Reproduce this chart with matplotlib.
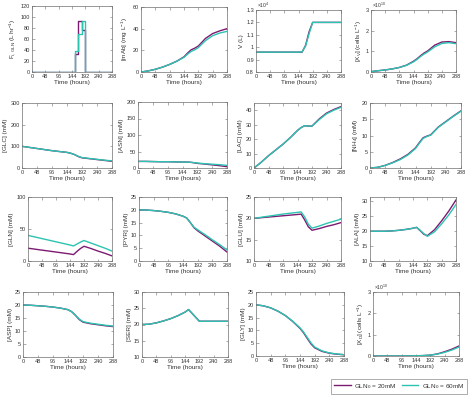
import numpy as np
import matplotlib
matplotlib.use("Agg")
import matplotlib.pyplot as plt
from matplotlib.ticker import FuncFormatter
from matplotlib.lines import Line2D

plt.rcParams['font.family'] = ['Liberation Sans', 'DejaVu Sans']
plt.rcParams['mathtext.default'] = 'regular'

# ---------------- data ----------------
t = [0, 24, 48, 72, 96, 120, 144, 156, 168, 180, 192, 216, 240, 264, 288]
series_names = ["GLN$_0$ = 20mM", "GLN$_0$ = 60mM"]

F_t = [0, 156, 165, 179, 191, 288]
F_20 = [0, 32, 92, 76, 0, 0]
F_60 = [0, 38, 70, 92, 0, 0]

mAb_20 = [0, 1, 2.5, 4.5, 7, 10, 14, 17.5, 20.5, 22, 24, 31, 35.5, 38, 40]
mAb_60 = [0, 1, 2.5, 4.5, 7, 10, 13.5, 16.5, 19, 20.5, 22.5, 29, 33.5, 36, 37.5]

V_20 = [9600, 9600, 9600, 9600, 9600, 9600, 9600, 9600, 10150, 11250, 12000, 12000, 12000, 12000, 12000]
V_60 = [9600, 9600, 9600, 9600, 9600, 9600, 9600, 9620, 10100, 11100, 12000, 12000, 12000, 12000, 12000]

XV_20 = [0.02, 0.06, 0.1, 0.15, 0.22, 0.33, 0.52, 0.64, 0.79, 0.92, 1.02, 1.3, 1.45, 1.47, 1.42]
XV_60 = [0.02, 0.06, 0.1, 0.15, 0.22, 0.32, 0.49, 0.61, 0.75, 0.87, 0.97, 1.22, 1.38, 1.42, 1.37]

GLC_20 = [100, 95, 90, 85, 80, 76, 72, 68, 62, 53, 47, 43, 39, 35, 31]
GLC_60 = [100, 95, 90, 85, 80, 76, 72, 68, 62, 54, 48, 44, 40, 36, 33]

ASN_20 = [20, 20, 19.5, 19, 19, 18.5, 18, 18, 17.5, 16, 14, 12, 9.5, 7, 4]
ASN_60 = [20, 20, 19.5, 19, 19, 18.5, 18, 18, 17.5, 16.5, 15, 13, 11.5, 10, 8]

LAC_20 = [0, 4, 8.5, 12.5, 16.5, 21, 26, 28, 29.3, 29, 29, 34, 38, 40.5, 42.5]
LAC_60 = [0, 4, 8.5, 12.5, 16.5, 21, 26, 28, 29.3, 29, 29, 33.5, 37.5, 40, 42]

NH4_20 = [0, 0.2, 0.8, 1.7, 2.8, 4.2, 6.2, 7.8, 9.3, 9.8, 10.2, 12.6, 14.3, 16, 17.6]
NH4_60 = [0, 0.2, 0.8, 1.6, 2.6, 4.0, 6.0, 7.6, 9.1, 9.7, 10.1, 12.5, 14.2, 15.9, 17.5]

GLN_20 = [20, 18.5, 17, 15.5, 14, 12.5, 11, 10, 15, 19.5, 23, 19.5, 15.5, 12, 8]
GLN_60 = [40, 37.5, 35, 32.5, 30, 27.5, 25, 23.5, 26.5, 29.5, 32, 28, 24, 20, 15.5]

PYR_20 = [20, 19.9, 19.7, 19.4, 19, 18.4, 17.5, 16.8, 15, 13, 11.8, 9.8, 7.8, 5.8, 3.5]
PYR_60 = [20, 19.9, 19.7, 19.4, 19, 18.4, 17.5, 16.8, 15, 13.2, 12.2, 10.3, 8.3, 6.4, 4.3]

GLU_20 = [20, 20.15, 20.3, 20.45, 20.6, 20.75, 20.9, 21, 19.6, 18, 17.2, 17.6, 18.1, 18.5, 19]
GLU_60 = [20, 20.25, 20.5, 20.75, 21, 21.2, 21.4, 21.5, 20.3, 18.6, 17.7, 18.2, 18.8, 19.3, 19.8]

ALA_20 = [20, 20, 20, 20.1, 20.3, 20.6, 21, 21.3, 20.2, 19, 18.5, 20.5, 23.5, 26.8, 30.5]
ALA_60 = [20, 20, 20, 20.1, 20.3, 20.6, 21, 21.3, 20.3, 19.2, 18.3, 19.8, 22.5, 25.5, 29]

ASP_20 = [20, 19.9, 19.7, 19.5, 19.2, 18.8, 18.2, 17.4, 16, 14.4, 13.4, 12.8, 12.4, 12, 11.7]
ASP_60 = [20, 19.9, 19.7, 19.5, 19.2, 18.8, 18.2, 17.4, 16, 14.6, 13.6, 13, 12.6, 12.2, 11.9]

SER_20 = [20, 20.1, 20.5, 21.1, 21.8, 22.7, 23.8, 24.6, 23.4, 22.2, 21, 21, 21, 21, 21]
SER_60 = [20, 20.1, 20.5, 21.1, 21.8, 22.7, 23.8, 24.6, 23.4, 22.2, 21, 21, 21, 21, 21]

GLY_20 = [20, 19.6, 18.8, 17.5, 15.8, 13.5, 10.8, 9, 6.8, 4.7, 3.2, 1.8, 1.1, 0.7, 0.5]
GLY_60 = [20, 19.6, 18.8, 17.5, 15.8, 13.6, 11, 9.3, 7.2, 5.1, 3.5, 2.0, 1.2, 0.8, 0.5]

XD_20 = [0, 0, 0, 0, 0, 0.005, 0.01, 0.015, 0.02, 0.03, 0.04, 0.1, 0.2, 0.32, 0.47]
XD_60 = [0, 0, 0, 0, 0, 0.005, 0.01, 0.015, 0.02, 0.03, 0.04, 0.09, 0.17, 0.28, 0.42]

x_ticks = [0, 48, 96, 144, 192, 240, 288]

# ---------------- style ----------------
C20 = '#7d1a72'
C60 = '#2cc4b0'
AXC = '#6e6e6e'
TXT = '#333333'
TICK_FS = 4.0
LAB_FS = 4.6
LW = 1.0

W, H = 474, 399
fig = plt.figure(figsize=(W / 100, H / 100), dpi=100)

def add_ax(l, tp, r, b):
    return fig.add_axes([l / W, 1 - b / H, (r - l) / W, (b - tp) / H])

def style(ax, ylabel, ylim, yticks, sci=None):
    ax.set_xlim(0, 288)
    ax.set_xticks(x_ticks)
    ax.set_ylim(*ylim)
    ax.set_yticks(yticks)
    ax.tick_params(direction='in', length=1.8, width=0.4, colors=AXC,
                   labelsize=TICK_FS, labelcolor=TXT, pad=1.5,
                   top=True, right=True)
    for s in ax.spines.values():
        s.set_color(AXC)
        s.set_linewidth(0.5)
    ax.set_xlabel('Time (hours)', fontsize=LAB_FS, color=TXT, labelpad=1)
    ax.set_ylabel(ylabel, fontsize=LAB_FS, color=TXT, labelpad=1.5)
    if sci is not None:
        ax.yaxis.set_major_formatter(FuncFormatter(lambda v, p, s=sci: '%g' % round(v / 10 ** s, 6)))
        ax.annotate(r'$\times$10$^{%d}$' % sci, xy=(0.0, 1.0), xycoords='axes fraction',
                    xytext=(0.5, 0.2), textcoords='offset points',
                    fontsize=TICK_FS - 0.4, color=TXT, ha='left', va='bottom')
    else:
        ax.yaxis.set_major_formatter(FuncFormatter(lambda v, p: '%g' % v))

def pair(ax, y20, y60, x=t, **kw):
    ax.plot(x, y20, color=C20, lw=LW, **kw)
    ax.plot(x, y60, color=C60, lw=LW, **kw)

# Row 1
ax = add_ax(32, 6, 112, 72)
pair(ax, F_20, F_60, x=F_t, drawstyle='steps-post')
style(ax, 'F$_{i,GLN}$ (L hr$^{-1}$)', (0, 120), range(0, 121, 20))

ax = add_ax(141, 7, 227, 72)
pair(ax, mAb_20, mAb_60)
style(ax, '[mAb] (mg L$^{-1}$)', (0, 60), [0, 20, 40, 60])

ax = add_ax(256, 10, 341, 72)
pair(ax, V_20, V_60)
style(ax, 'V (L)', (8000, 13000), [8000, 9000, 10000, 11000, 12000, 13000], sci=4)

ax = add_ax(371, 10, 456, 72)
pair(ax, np.array(XV_20) * 1e10, np.array(XV_60) * 1e10)
style(ax, '[X$_V$] (cells L$^{-1}$)', (0, 3e10), [0, 1e10, 2e10, 3e10], sci=10)

# Row 2
ax = add_ax(22, 103, 112, 168)
pair(ax, GLC_20, GLC_60)
style(ax, '[GLC] (mM)', (0, 300), [0, 100, 200, 300])

ax = add_ax(138, 102, 227, 168)
pair(ax, ASN_20, ASN_60)
style(ax, '[ASN] (mM)', (0, 200), [0, 50, 100, 150, 200])

ax = add_ax(254, 103, 341, 168)
pair(ax, LAC_20, LAC_60)
style(ax, '[LAC] (mM)', (0, 45), [0, 10, 20, 30, 40])

ax = add_ax(370, 103, 461, 168)
pair(ax, NH4_20, NH4_60)
style(ax, '[NH$_4$] (mM)', (0, 20), [0, 5, 10, 15, 20])

# Row 3
ax = add_ax(28, 197, 112, 261)
pair(ax, GLN_20, GLN_60)
style(ax, '[GLN] (mM)', (0, 100), [0, 50, 100])

ax = add_ax(139, 197, 227, 261)
pair(ax, PYR_20, PYR_60)
style(ax, '[PYR] (mM)', (0, 25), [0, 5, 10, 15, 20, 25])

ax = add_ax(254, 197, 341, 261)
pair(ax, GLU_20, GLU_60)
style(ax, '[GLU] (mM)', (10, 25), [10, 15, 20, 25])

ax = add_ax(370, 197, 456, 261)
pair(ax, ALA_20, ALA_60)
style(ax, '[ALA] (mM)', (10, 31.5), [10, 15, 20, 25, 30])

# Row 4
ax = add_ax(23, 292, 113, 357)
pair(ax, ASP_20, ASP_60)
style(ax, '[ASP] (mM)', (0, 25), [0, 5, 10, 15, 20, 25])

ax = add_ax(142, 292, 228, 357)
pair(ax, SER_20, SER_60)
style(ax, '[SER] (mM)', (10, 30), [10, 15, 20, 25, 30])

ax = add_ax(256, 292, 344, 356)
pair(ax, GLY_20, GLY_60)
style(ax, '[GLY] (mM)', (0, 25), [0, 5, 10, 15, 20, 25])

ax = add_ax(373, 292, 459, 356)
pair(ax, np.array(XD_20) * 1e10, np.array(XD_60) * 1e10)
style(ax, '[X$_D$] (cells L$^{-1}$)', (0, 3e10), [0, 1e10, 2e10, 3e10], sci=10)

handles = [Line2D([], [], color=C20, lw=LW), Line2D([], [], color=C60, lw=LW)]
leg = fig.legend(handles, series_names, loc='lower right', bbox_to_anchor=(0.992, 0.005),
                 ncol=2, fontsize=LAB_FS, frameon=True, fancybox=False,
                 handlelength=2.6, columnspacing=0.8, handletextpad=0.5,
                 borderpad=0.5, labelcolor=TXT)
leg.get_frame().set_edgecolor(AXC)
leg.get_frame().set_linewidth(0.5)

fig.savefig('out.png', dpi=100)
